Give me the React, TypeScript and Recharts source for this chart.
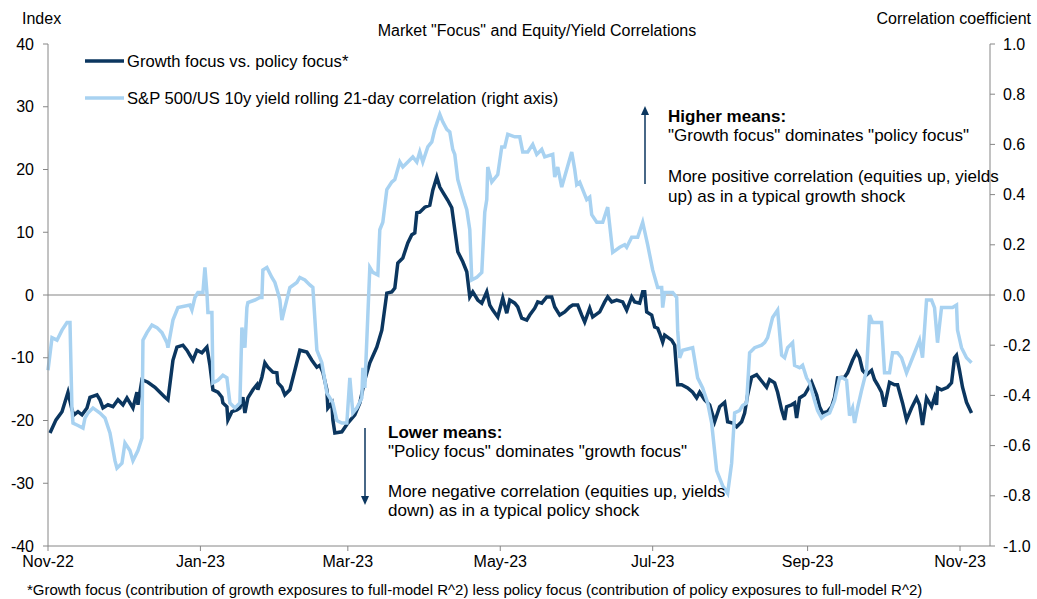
import React from "react";
import {
  LineChart,
  Line,
  XAxis,
  YAxis,
  ReferenceLine,
} from "recharts";

if (typeof document !== "undefined") document.body.style.margin = "0";

// x = days since 1 Nov 2022
const monthTicks = [0, 61, 120, 181, 242, 304, 365];
const monthLabels = ["Nov-22", "Jan-23", "Mar-23", "May-23", "Jul-23", "Sep-23", "Nov-23"];
const indexTicks = [-40, -30, -20, -10, 0, 10, 20, 30, 40];
const corrTicks = [-1, -0.8, -0.6, -0.4, -0.2, 0, 0.2, 0.4, 0.6, 0.8, 1];

// Growth focus vs. policy focus (left axis)
const growthSeries: [number, number][] = [
  [0.8, -22], [3.2, -19.9], [5.6, -18.6], [8, -15.5], [9.6, -18.3], [10.4, -19.1], [12, -18.6],
  [13.6, -19.1], [15.6, -18], [16.8, -16.3], [19.6, -15.9], [20.8, -16.7], [22, -18], [24, -17.5],
  [26, -17.8], [28, -16.7], [30, -17.5], [31.6, -16.4], [34, -18], [35.6, -15.5], [36, -17.5],
  [37.6, -13.5], [40, -13.9], [42.8, -14.7], [44.8, -15.5], [46.8, -16.3], [48, -16.7], [50, -10.4],
  [51.6, -8.3], [54, -8], [55.6, -8.8], [56.8, -9.6], [58, -10.4], [59.6, -8.8], [61.6, -9.2],
  [63.6, -8.3], [64.8, -11.2], [66, -15.1], [68, -15.5], [69.6, -16.3], [70, -17.2], [71.6, -17.8],
  [72, -19.9], [73.6, -18.6], [75.6, -18.3], [76.8, -18], [78, -16.3], [78.8, -18.8], [80, -16.4],
  [82, -15.1], [83.6, -14.3], [84, -15.1], [85.6, -13.1], [86.8, -10.8], [88, -11.5], [90, -12.3],
  [91.6, -12.4], [92, -14], [93.6, -14.7], [94.8, -15.9], [96.8, -15.1], [98.8, -12], [100.8, -8.8],
  [103.6, -9.1], [105.6, -10.4], [107.6, -11.5], [108.8, -11.2], [110, -12.3], [111.6, -15.1],
  [112, -18], [113.6, -17.2], [114, -19.9], [114.8, -22], [117.6, -21.8], [120, -20.4], [122.8, -19.1],
  [124.8, -17.2], [126.8, -13.5], [128.8, -10.8], [131.6, -8.3], [133.6, -5.6], [135.6, 0.3],
  [137.6, 0.5], [138.8, 1.1], [140, 5.1], [142, 5.9], [144, 8.3], [145.6, 9.6], [146.8, 9.9],
  [147.6, 13.1], [148.8, 13.2], [150.8, 14], [152.8, 14.3], [154, 16.7], [155.6, 18.8], [156.8, 17.2],
  [158, 16.4], [160, 15.1], [161.6, 13.9], [162.8, 10.4], [164, 6.9], [166, 5.3], [167.6, 3.7],
  [168.8, -0.3], [170, 0.5], [172, -0.8], [173.6, -1.3], [175.6, 0.5], [176.8, -1.6], [178, -2.4],
  [180, -3.5], [182, -0.5], [183.6, -2.9], [184.8, -0.8], [186.8, -1.3], [188, -1.9], [189.6, -3.7],
  [191.6, -4], [192.8, -3.2], [194.8, -2.1], [196, -1.1], [197.6, -1.3], [199.6, -0.3], [201.6, -0.3],
  [202.8, -1.9], [204.8, -3.2], [206.8, -2.7], [208.8, -1.9], [210, -1.6], [212, -1.6], [213.6, -3.2],
  [214.8, -4.3], [216.8, -2.1], [218, -3.5], [220.8, -2.7], [222.8, -1.1], [224, -0.3], [225.6, -1.1],
  [227.6, -0.8], [230, -1.1], [231.6, -2.4], [233.6, -0.3], [234.8, -1.1], [236.8, -1.3], [238, 0.5],
  [238.8, 0.5], [239.6, -2.7], [241.6, -3.2], [242.8, -5.1], [244, -5.3], [244.8, -6.1], [246, -7.5],
  [246.8, -6.4], [249.6, -7.2], [250.8, -8], [252, -14.3], [253.6, -14.3], [256, -14.8], [258, -15.5],
  [259.6, -16.4], [260.8, -15.5], [262.8, -16.7], [264.8, -17.5], [266.8, -20.2], [268.8, -17.8],
  [270.8, -17.1], [272, -20.2], [274, -20.4], [275.6, -21], [277.6, -20.2], [278.8, -18.8], [280, -15.9],
  [281.6, -13.1], [283.6, -12.7], [286, -13.9], [287.6, -14.7], [288.8, -13.5], [290.8, -14],
  [292, -15.5], [293.6, -18.3], [294.8, -19.9], [295.6, -17.8], [297.6, -17.5], [298.8, -17.2],
  [299.6, -19.6], [300.8, -16.4], [302.8, -15.9], [304, -15.1], [305.6, -13.9], [307.6, -15.9],
  [308.8, -17.8], [310, -18.8], [312, -18.6], [313.6, -17.8], [314.8, -16.3], [316, -13.2],
  [318.8, -13.1], [320, -12.4], [322, -10.4], [323.6, -9.1], [324.8, -10], [326, -12], [327.6, -12.7],
  [329.6, -12], [330.8, -13.5], [332, -14.3], [333.6, -15.5], [334.8, -17.8], [336.8, -13.9],
  [338.8, -14.3], [340, -14.3], [342, -17.2], [343.6, -19.9], [345.6, -18], [347.6, -16.4],
  [348.8, -17.5], [350, -20.7], [351.6, -16.4], [353.6, -17.8], [354.8, -16.3], [355.6, -17.5],
  [356, -14.8], [357.6, -15.1], [360, -14.7], [361.6, -14], [362.8, -10], [363.6, -9.6], [364.8, -12],
  [366, -14.7], [367.6, -17.1], [369.6, -18.8],
];

// S&P 500 / US 10y yield rolling 21-day correlation (right axis)
const corrSeries: [number, number][] = [
  [0, -0.3], [1.6, -0.17], [3.6, -0.18], [5.6, -0.14], [7.6, -0.11], [8.8, -0.11], [9.6, -0.46],
  [10, -0.51], [12, -0.52], [14, -0.53], [14.8, -0.49], [16, -0.47], [18, -0.45], [20.8, -0.47],
  [22.8, -0.49], [24.8, -0.55], [26.8, -0.66], [27.6, -0.69], [29.6, -0.67], [30.8, -0.59],
  [32.8, -0.62], [34, -0.66], [36, -0.62], [37.6, -0.57], [38, -0.18], [39.6, -0.15], [41.6, -0.12],
  [43.6, -0.13], [45.6, -0.15], [47.6, -0.19], [48, -0.21], [50, -0.1], [52, -0.05], [56.8, -0.04],
  [57.6, -0.06], [58.8, -0.01], [60, 0.01], [62, 0.01], [62.8, 0.11], [63.6, 0.01], [64, -0.07],
  [65.6, -0.07], [66, -0.35], [68, -0.34], [70, -0.32], [71.6, -0.33], [72.8, -0.43], [74.8, -0.45],
  [76.8, -0.43], [77.6, -0.13], [78.8, -0.21], [79.6, -0.05], [80, -0.03], [82.8, -0.02],
  [84.8, -0.01], [85.6, -0.01], [86, 0.1], [87.6, 0.11], [89.6, 0.07], [90.8, 0.05], [92, 0.01],
  [92.8, -0.02], [93.6, -0.1], [94.8, -0.05], [96.8, 0.03], [99.6, 0.05], [100.8, 0.07], [102.8, 0.06],
  [104.8, 0.04], [106, 0.03], [107.6, -0.22], [109.6, -0.27], [111.6, -0.39], [112.8, -0.41],
  [114, -0.43], [115.6, -0.5], [117.6, -0.51], [119.6, -0.51], [120.8, -0.33], [122, -0.47],
  [123.6, -0.45], [125.6, -0.41], [126, -0.29], [126.8, -0.37], [128.8, 0.11], [130, 0.09], [132, 0.08],
  [132.8, 0.26], [134, 0.29], [135.6, 0.42], [137.6, 0.45], [138.8, 0.46], [140.8, 0.53], [142, 0.51],
  [144, 0.53], [146, 0.55], [147.6, 0.53], [148.8, 0.57], [150, 0.53], [152, 0.59], [153.6, 0.61],
  [154.8, 0.66], [156.8, 0.72], [158, 0.69], [159.6, 0.66], [160.8, 0.65], [162, 0.58], [162.8, 0.56],
  [164, 0.46], [166, 0.39], [167.6, 0.34], [168.8, 0.26], [169.6, 0.06], [171.6, 0.07], [173.6, 0.09],
  [174.8, 0.33], [175.6, 0.38], [176, 0.51], [177.6, 0.45], [180, 0.48], [181.6, 0.59], [182.8, 0.59],
  [184, 0.64], [186.8, 0.63], [188.8, 0.63], [190, 0.57], [192, 0.57], [194, 0.6], [195.6, 0.56],
  [197.6, 0.58], [198.8, 0.55], [202, 0.56], [202.8, 0.47], [204, 0.51], [205.6, 0.43], [209.6, 0.57],
  [210.8, 0.5], [211.6, 0.44], [212.8, 0.45], [215.6, 0.38], [216.8, 0.39], [217.6, 0.32],
  [219.6, 0.29], [222, 0.29], [224, 0.35], [226, 0.17], [228.8, 0.19], [230.8, 0.2], [231.6, 0.19],
  [233.6, 0.23], [236, 0.23], [238, 0.29], [240, 0.2], [242, 0.1], [244, 0.03], [245.6, 0.03],
  [246, -0.05], [246.8, 0.01], [250, 0.01], [251.6, -0.01], [252, -0.14], [252.8, -0.25], [254, -0.22],
  [258, -0.21], [260, -0.33], [262, -0.37], [264, -0.43], [265.6, -0.51], [267.6, -0.7], [270, -0.76],
  [272, -0.79], [273.6, -0.67], [274.8, -0.47], [276.8, -0.46], [278, -0.44], [279.6, -0.43],
  [280.8, -0.23], [282.8, -0.21], [285.6, -0.2], [286.8, -0.19], [288, -0.17], [290, -0.09],
  [292, -0.06], [293.6, -0.24], [294.8, -0.25], [296, -0.21], [298, -0.19], [298.8, -0.28],
  [300.8, -0.29], [302, -0.28], [303.6, -0.33], [304.8, -0.35], [306.8, -0.42], [308, -0.46],
  [309.6, -0.49], [310.8, -0.48], [312.8, -0.47], [314.8, -0.42], [316.8, -0.33], [318, -0.33],
  [319.6, -0.34], [320.8, -0.48], [322, -0.45], [322.8, -0.51], [324, -0.45], [325.6, -0.38],
  [327.6, -0.3], [328.8, -0.08], [330, -0.11], [332, -0.11], [333.6, -0.11], [334.8, -0.31],
  [336.8, -0.31], [338, -0.23], [340, -0.23], [341.6, -0.25], [343.6, -0.31], [345.6, -0.26],
  [346.8, -0.23], [348.8, -0.18], [350, -0.25], [351.6, -0.02], [353.6, -0.02], [354.8, -0.05],
  [356, -0.19], [357.6, -0.05], [359.6, -0.05], [362, -0.05], [363.6, -0.04], [364, -0.14],
  [365.6, -0.21], [367.6, -0.25], [369.6, -0.27],
];

const DARK = "#0b365f";
const LIGHT = "#a8d2f1";
const AXIS = "#868686";
const FONT = '"Liberation Sans", Arial, sans-serif';

type Row = { day: number; growth?: number; corr?: number };

function buildRows(): Row[] {
  const map = new Map<number, Row>();
  const get = (d: number) => {
    if (!map.has(d)) map.set(d, { day: d });
    return map.get(d)!;
  };
  growthSeries.forEach(([d, v]) => (get(d).growth = v));
  corrSeries.forEach(([d, v]) => (get(d).corr = v));
  return Array.from(map.values()).sort((a, b) => a.day - b.day);
}

const data = buildRows();

const textStyle = { fontFamily: FONT, fontSize: 16, fill: "#000" };
const noteStyle = { ...textStyle, fontSize: 17 };
const legendStyle = { ...textStyle, fontSize: 16.6 };

const Overlay = () => (
  <svg
    width={1037}
    height={599}
    style={{ position: "absolute", left: 0, top: 0, pointerEvents: "none" }}
  >
    <text x={22} y={24} {...textStyle}>Index</text>
    <text x={537} y={36} textAnchor="middle" {...textStyle}>
      Market "Focus" and Equity/Yield Correlations
    </text>
    <text x={1031} y={24} textAnchor="end" {...textStyle}>Correlation coefficient</text>

    {/* legend */}
    <line x1={85} y1={61} x2={124} y2={61} stroke={DARK} strokeWidth={3.5} />
    <text x={127} y={67} {...legendStyle}>Growth focus vs. policy focus*</text>
    <line x1={85} y1={98} x2={124} y2={98} stroke={LIGHT} strokeWidth={3.5} />
    <text x={127} y={104} {...legendStyle}>
      S&amp;P 500/US 10y yield rolling 21-day correlation (right axis)
    </text>

    {/* higher means */}
    <line x1={645} y1={184} x2={645} y2={114} stroke={DARK} strokeWidth={1.5} />
    <polygon points="641,115 649,115 645,106" fill={DARK} />
    <text x={668} y={122} {...noteStyle} fontWeight="bold">Higher means:</text>
    <text x={668} y={141} {...noteStyle}>"Growth focus" dominates "policy focus"</text>
    <text x={668} y={182} {...noteStyle}>More positive correlation (equities up, yields</text>
    <text x={668} y={202} {...noteStyle}>up) as in a typical growth shock</text>

    {/* lower means */}
    <line x1={365} y1={428} x2={365} y2={497} stroke={DARK} strokeWidth={1.5} />
    <polygon points="361,496 369,496 365,505" fill={DARK} />
    <text x={388} y={438} {...noteStyle} fontWeight="bold">Lower means:</text>
    <text x={388} y={457} {...noteStyle}>"Policy focus" dominates "growth focus"</text>
    <text x={388} y={497} {...noteStyle}>More negative correlation (equities up, yields</text>
    <text x={388} y={516} {...noteStyle}>down) as in a typical policy shock</text>

    <text x={27} y={595} {...textStyle} fontSize={15}>
      *Growth focus (contribution of growth exposures to full-model R^2) less policy focus (contribution of policy exposures to full-model R^2)
    </text>
  </svg>
);

export default function App() {
  return (
    <div style={{ position: "relative", width: 1037, height: 599, background: "#fff" }}>
      <LineChart
        width={1037}
        height={599}
        data={data}
        margin={{ top: 44, right: 0, bottom: 0, left: 0 }}
      >
        <XAxis
          dataKey="day"
          type="number"
          domain={[0, 377]}
          ticks={monthTicks}
          interval={0}
          height={53}
          tickFormatter={(v: number) => monthLabels[monthTicks.indexOf(v)] ?? ""}
          tick={{ fill: "#000", fontSize: 16, fontFamily: FONT }}
          stroke={AXIS}
          tickSize={5}
          tickMargin={5}
        />
        <YAxis
          yAxisId="left"
          domain={[-40, 40]}
          ticks={indexTicks}
          interval={0}
          width={48}
          tick={{ fill: "#000", fontSize: 16, fontFamily: FONT }}
          stroke={AXIS}
          tickSize={5}
          tickMargin={9}
        />
        <YAxis
          yAxisId="right"
          orientation="right"
          domain={[-1, 1]}
          ticks={corrTicks}
          interval={0}
          width={47}
          tickFormatter={(v: number) => v.toFixed(1)}
          tick={{ fill: "#000", fontSize: 16, fontFamily: FONT }}
          stroke={AXIS}
          tickSize={5}
          tickMargin={8}
        />
        <ReferenceLine yAxisId="left" y={0} stroke={AXIS} strokeWidth={1.2} />
        <Line
          yAxisId="left"
          dataKey="growth"
          stroke={DARK}
          strokeWidth={3.5}
          dot={false}
          connectNulls
          isAnimationActive={false}
        />
        <Line
          yAxisId="right"
          dataKey="corr"
          stroke={LIGHT}
          strokeWidth={3.5}
          dot={false}
          connectNulls
          isAnimationActive={false}
        />
      </LineChart>
      <Overlay />
    </div>
  );
}
